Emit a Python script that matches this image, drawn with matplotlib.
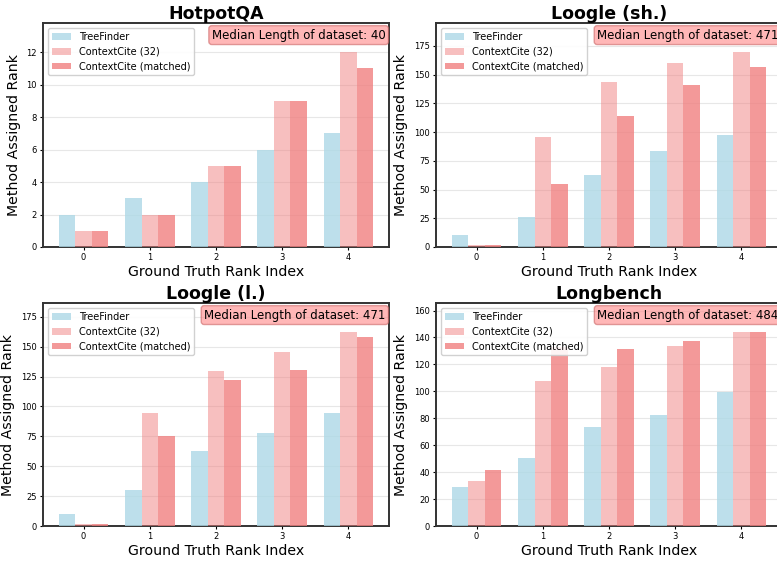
import matplotlib
matplotlib.use("Agg")
import matplotlib.pyplot as plt
import numpy as np

# data
ranks = [0, 1, 2, 3, 4]
methods = ["TreeFinder", "ContextCite (32)", "ContextCite (matched)"]

hotpot_tf = [2, 3, 4, 6, 7]
hotpot_cc32 = [1, 2, 5, 9, 12]
hotpot_ccm = [1, 2, 5, 9, 11]

loogle_sh_tf = [10.2, 26, 62.7, 83.7, 97.7]
loogle_sh_cc32 = [2, 95.9, 143.1, 159.8, 169.4]
loogle_sh_ccm = [2, 54.8, 114.3, 140.5, 156.3]

loogle_l_tf = [9.8, 29.9, 62.5, 77.6, 94.3]
loogle_l_cc32 = [2, 94.3, 129.5, 145.4, 162.2]
loogle_l_ccm = [2, 75.1, 122, 130.3, 158]

longbench_tf = [29, 50.5, 73.5, 82.4, 99.5]
longbench_cc32 = [33.4, 107.7, 118.1, 133.7, 144]
longbench_ccm = [41.6, 133, 131.4, 137.4, 144]

titles = ["HotpotQA", "Loogle (sh.)", "Loogle (l.)", "Longbench"]
median_lengths = [40, 471, 471, 484]

colors = ["lightblue", "lightcoral", "lightcoral"]
alphas = [0.8, 0.5, 0.8]

W, H = 777, 561
fig = plt.figure(figsize=(W / 100, H / 100), dpi=100)

# axes boxes in pixels (left, top, right, bottom); right column runs off the edge
boxes = [(43, 23, 389, 247), (436, 23, 782, 247),
         (43, 303, 389, 526), (436, 303, 782, 526)]

datasets = [
    (hotpot_tf, hotpot_cc32, hotpot_ccm),
    (loogle_sh_tf, loogle_sh_cc32, loogle_sh_ccm),
    (loogle_l_tf, loogle_l_cc32, loogle_l_ccm),
    (longbench_tf, longbench_cc32, longbench_ccm),
]

width = 0.25
x = np.arange(len(ranks))

for (l, t, r, b), title, med, series in zip(boxes, titles, median_lengths, datasets):
    ax = fig.add_axes([l / W, (H - b) / H, (r - l) / W, (b - t) / H])
    for i, (vals, name) in enumerate(zip(series, methods)):
        ax.bar(x + (i - 1) * width, vals, width, color=colors[i], alpha=alphas[i],
               label=name, zorder=3)
    ymax = max(max(s) for s in series)
    ax.set_ylim(0, ymax * 1.15)
    ax.set_xticks(x)
    ax.set_xticklabels([str(v) for v in ranks])
    ax.tick_params(labelsize=6, length=2.5, pad=2)
    ax.set_xlabel("Ground Truth Rank Index", fontsize=10.2, labelpad=2)
    ax.set_ylabel("Method Assigned Rank", fontsize=10.2, labelpad=4)
    ax.set_title(title, fontsize=12.5, fontweight="bold", pad=2)
    ax.grid(axis="y", color="#dddddd", alpha=0.7, zorder=0)
    for s in ax.spines.values():
        s.set_linewidth(1.4)
        s.set_color("#333333")
    ax.legend(loc="upper left", fontsize=7, framealpha=0.9)
    ax.text(0.99, 0.975, f"Median Length of dataset: {med}", transform=ax.transAxes,
            ha="right", va="top", fontsize=8.5,
            bbox=dict(boxstyle="round,pad=0.25", facecolor="#f88", alpha=0.6,
                      edgecolor="#c66"))

fig.savefig("out.png", dpi=100)
